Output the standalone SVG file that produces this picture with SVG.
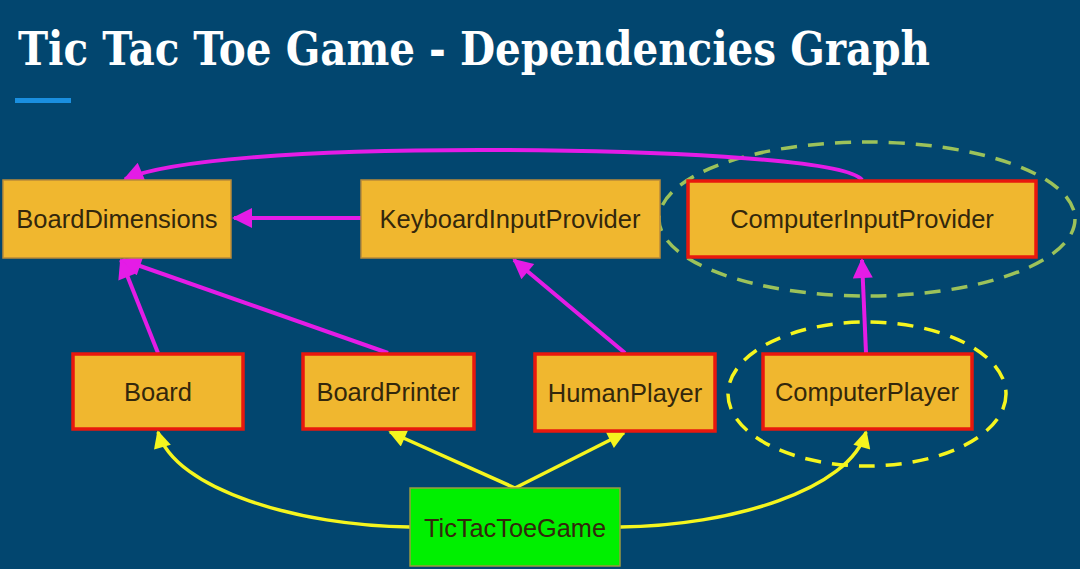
<svg xmlns="http://www.w3.org/2000/svg" width="1080" height="569" viewBox="0 0 1080 569">
<defs>
<style>
.node{fill:#F0B72F;stroke:#B88A3A;stroke-width:1.5}
.red{stroke:#E8180E;stroke-width:3.5}
.green{fill:#00F000;stroke:#9A9A40;stroke-width:1.5}
.lbl{font-family:"Liberation Sans",Arial,sans-serif;font-size:25.5px;fill:#33270C;text-anchor:middle}
.mag{fill:none;stroke:#E41CE6;stroke-width:4}
.yel{fill:none;stroke:#F5F51E;stroke-width:3.5}
</style>
<marker id="am" viewBox="0 0 10 10" refX="9" refY="5" markerWidth="5.5" markerHeight="5" markerUnits="strokeWidth" orient="auto"><path d="M0,0L10,5L0,10Z" fill="#E41CE6"/></marker>
<marker id="ay" viewBox="0 0 10 10" refX="9" refY="5" markerWidth="6" markerHeight="5" markerUnits="strokeWidth" orient="auto"><path d="M0,0L10,5L0,10Z" fill="#F5F51E"/></marker>
</defs>
<rect width="1080" height="569" fill="#02466F"/>
<text x="18" y="65" font-family="'DejaVu Serif',serif" font-weight="bold" font-size="46" fill="#FFFFFF" textLength="912" lengthAdjust="spacingAndGlyphs">Tic Tac Toe Game - Dependencies Graph</text>
<rect x="15" y="98" width="56" height="5" fill="#1A8FE0"/>

<g id="ellipses">
<ellipse cx="867" cy="219" rx="208" ry="77" fill="none" stroke="#9CC25A" stroke-width="3.5" stroke-dasharray="16,11"/>
<ellipse cx="867" cy="394" rx="139" ry="72" fill="none" stroke="#F5F51E" stroke-width="3.5" stroke-dasharray="16,11"/>
</g>

<g id="connectors">
<path class="mag" d="M862,180 C845,158 640,150 480,150 C300,150 170,160 125,179" marker-end="url(#am)"/>
<path class="mag" d="M361,218 L234,218" marker-end="url(#am)"/>
<path class="mag" d="M158,353 L121,260" marker-end="url(#am)"/>
<path class="mag" d="M388,353 L123,260" marker-end="url(#am)"/>
<path class="mag" d="M625,353 L514,260" marker-end="url(#am)"/>
<path class="mag" d="M866,353 L862,260" marker-end="url(#am)"/>
<path class="yel" d="M410,527 C300,526 175,490 158,432" marker-end="url(#ay)"/>
<path class="yel" d="M515,488 L390,432" marker-end="url(#ay)"/>
<path class="yel" d="M515,488 L624,433" marker-end="url(#ay)"/>
<path class="yel" d="M620,527 C730,526 850,490 866,432" marker-end="url(#ay)"/>
</g>

<g id="BoardDimensions"><rect class="node" x="3" y="180" width="228" height="78"/><text class="lbl" x="117" y="228">BoardDimensions</text></g>
<g id="KeyboardInputProvider"><rect class="node" x="361" y="180" width="299" height="78"/><text class="lbl" x="510" y="228">KeyboardInputProvider</text></g>
<g id="ComputerInputProvider"><rect class="node red" x="688" y="181" width="348" height="76"/><text class="lbl" x="862" y="228">ComputerInputProvider</text></g>
<g id="Board"><rect class="node red" x="73" y="354" width="170" height="75"/><text class="lbl" x="158" y="401">Board</text></g>
<g id="BoardPrinter"><rect class="node red" x="303" y="354" width="171" height="75"/><text class="lbl" x="388" y="401">BoardPrinter</text></g>
<g id="HumanPlayer"><rect class="node red" x="535" y="354" width="180" height="77"/><text class="lbl" x="625" y="402">HumanPlayer</text></g>
<g id="ComputerPlayer"><rect class="node red" x="763" y="354" width="209" height="75"/><text class="lbl" x="867" y="401">ComputerPlayer</text></g>
<g id="TicTacToeGame"><rect class="green" x="410" y="488" width="210" height="78"/><text class="lbl" x="515" y="537" font-size="26" textLength="182" lengthAdjust="spacingAndGlyphs" fill="#1A3A0A">TicTacToeGame</text></g>
</svg>
